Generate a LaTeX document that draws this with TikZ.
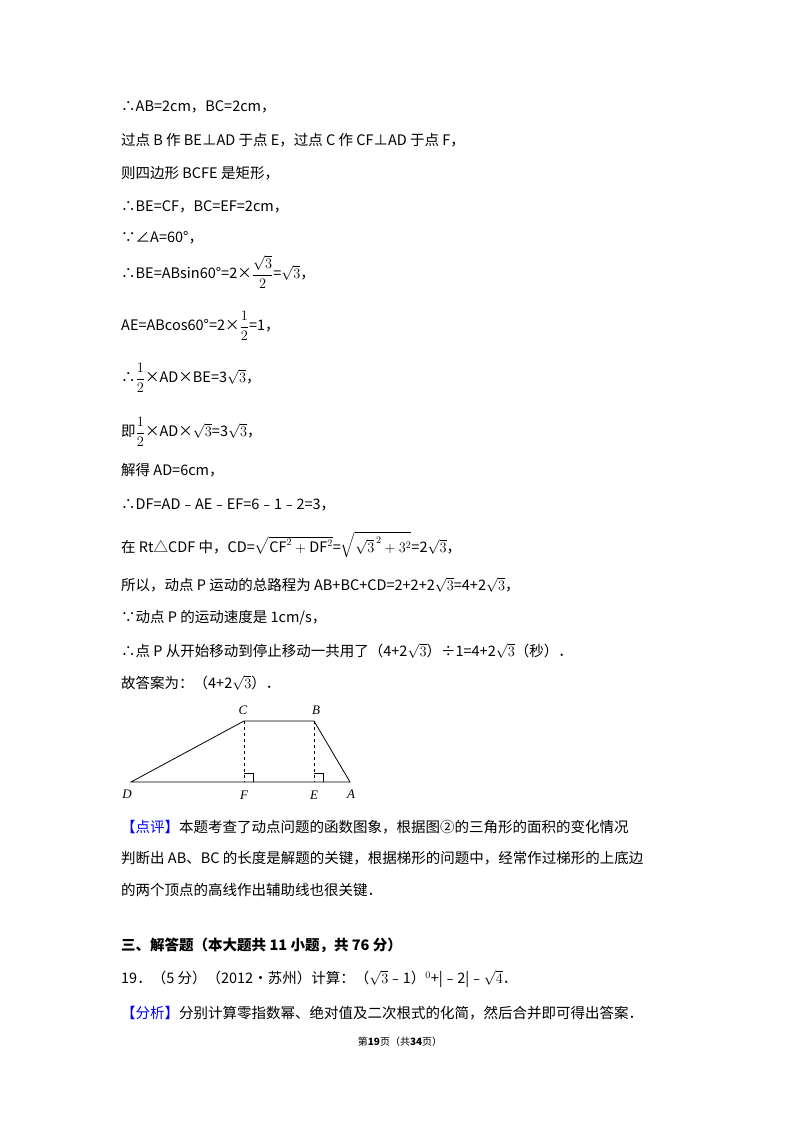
\documentclass[tikz,border=0pt]{standalone}
\usepackage{fontspec}
\setmainfont{Noto Sans CJK SC}
\newfontfamily\serifit{Liberation Serif}
\usepackage{amsmath}
\usetikzlibrary{calc}
\begin{document}
\begin{tikzpicture}[x=1pt,y=-1pt,
  t/.style={anchor=west,inner sep=0pt,font=\fontsize{14.5}{16}\selectfont},
  lab/.style={inner sep=0pt,font=\fontsize{13}{14}\serifit\itshape}]
\useasboundingbox (0,0) rectangle (800,1132);
\fill[white] (0,0) rectangle (800,1132);
\newcommand\rt[1]{$\sqrt{#1}$}
\node[t] (l1) at (121,107) {∴AB=2cm，BC=2cm，};
\node[t] (l2) at (121,140) {过点 B 作 BE⊥AD 于点 E，过点 C 作 CF⊥AD 于点 F，};
\node[t] (l3) at (121,173) {则四边形 BCFE 是矩形，};
\node[t] (l4) at (121,207) {∴BE=CF，BC=EF=2cm，};
\node[t] (l5) at (121,238) {∵∠A=60°，};
\node[t] (l6) at (121,272) {∴BE=ABsin60°=2×$\dfrac{\sqrt3}{2}$=\rt3，};
\node[t] (l7) at (121,326) {AE=ABcos60°=2×$\dfrac{1}{2}$=1，};
\node[t] (l8) at (121,378) {∴$\dfrac12$×AD×BE=3\rt3，};
\node[t] (l9) at (121,432) {即$\dfrac12$×AD×\rt3=3\rt3，};
\node[t] (l10) at (121,470) {解得 AD=6cm，};
\node[t] (l11) at (121,505) {∴DF=AD﹣AE﹣EF=6﹣1﹣2=3，};
\node[t] (l12) at (121,545) {在 Rt△CDF 中，CD=$\sqrt{\mathrm{CF}^2+\mathrm{DF}^2}$=$\sqrt{\sqrt3^{\,2}+3^2}$=2\rt3，};
\node[t] (l13) at (121,585) {所以，动点 P 运动的总路程为 AB+BC+CD=2+2+2\rt3=4+2\rt3，};
\node[t] (l14) at (121,618) {∵动点 P 的运动速度是 1cm/s，};
\node[t] (l15) at (121,651) {∴点 P 从开始移动到停止移动一共用了（4+2\rt3）÷1=4+2\rt3（秒）．};
\node[t] (l16) at (121,683) {故答案为：（4+2\rt3）．};
% figure
\coordinate (D) at (131,782); \coordinate (F) at (244,782); \coordinate (E) at (314,782);
\coordinate (A) at (350,782); \coordinate (C) at (244,721); \coordinate (B) at (314,721);
\draw[line width=0.8pt] (D)--(A)--(B)--(C)--cycle;
\draw[dashed,line width=0.6pt] (C)--(F) (B)--(E);
\draw[line width=0.6pt] ($(F)+(0,-9)$) -| ($(F)+(9,0)$);
\draw[line width=0.6pt] ($(E)+(0,-9)$) -| ($(E)+(9,0)$);
\node[lab] (nD) at (127,794) {D};
\node[lab] (nF) at (244,795) {F};
\node[lab] (nE) at (314,795) {E};
\node[lab] (nA) at (351,794) {A};
\node[lab] (nC) at (243,710) {C};
\node[lab] (nB) at (316,710) {B};
\node[t] (c1) at (121,827) {\textcolor{blue}{【点评】}本题考查了动点问题的函数图象，根据图②的三角形的面积的变化情况};
\node[t] (c2) at (121,858) {判断出 AB、BC 的长度是解题的关键，根据梯形的问题中，经常作过梯形的上底边};
\node[t] (c3) at (121,890) {的两个顶点的高线作出辅助线也很关键．};
\node[t,font=\fontsize{14.5}{16}\selectfont\bfseries] (h) at (121,945) {三、解答题（本大题共 11 小题，共 76 分）};
\node[t] (q) at (121,979) {19．（5 分）（2012•苏州）计算：（\rt3﹣1）$^0$+|﹣2|﹣\rt4．};
\node[t] (a) at (121,1013) {\textcolor{blue}{【分析】}分别计算零指数幂、绝对值及二次根式的化简，然后合并即可得出答案．};
\node[inner sep=0pt,font=\fontsize{10}{12}\selectfont] (ft) at (400,1042) {第\textbf{19}页（共\textbf{34}页）};
\end{tikzpicture}
\end{document}
